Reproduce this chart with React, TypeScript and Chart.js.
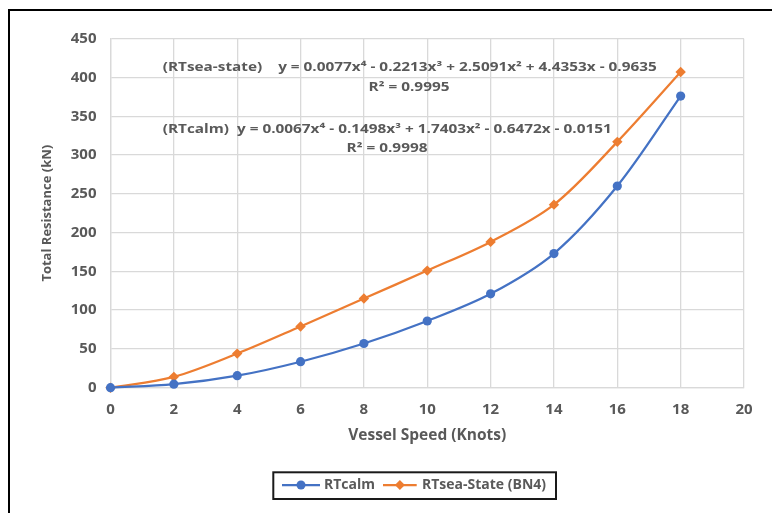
import React, { useEffect, useRef } from "react";
import { Chart, registerables } from "chart.js";

Chart.register(...registerables);

// ---------- data ----------
const speeds = [0, 2, 4, 6, 8, 10, 12, 14, 16, 18];
const rtCalm = [0, 4.5, 15.5, 33.5, 57, 86, 121, 173, 260, 376];
const rtSea = [0, 14, 44, 79, 115, 151, 188, 236, 317, 407];
const seriesLabels = ["RTcalm", "RTsea-State (BN4)"];
const seriesColors = ["#4472C4", "#ED7D31"];
const xTitle = "Vessel Speed (Knots)";
const yTitle = "Total Resistance (kN)";
const xRange = [0, 20, 2];
const yRange = [0, 450, 50];
const seaEquation = "(RTsea-state)    y = 0.0077x⁴ - 0.2213x³ + 2.5091x² + 4.4353x - 0.9635";
const seaR2 = "R² = 0.9995";
const calmEquation = "(RTcalm)  y = 0.0067x⁴ - 0.1498x³ + 1.7403x² - 0.6472x - 0.0151";
const calmR2 = "R² = 0.9998";

const FONT = "'Open Sans', 'DejaVu Sans', sans-serif";
const TEXT = "#595959";
const GRID = "#d9d9d9";

const annotationPlugin = {
  id: "trendText",
  beforeDatasetsDraw(chart: any) {
    const ctx = chart.ctx;
    const ca = chart.chartArea;
    ctx.save();
    ctx.fillStyle = TEXT;
    ctx.font = `bold 12px ${FONT}`;
    ctx.textBaseline = "middle";
    const w = ctx.measureText(calmEquation).width;
    const sx = 449 / w;
    const draw = (t: string, x: number, y: number, center: boolean) => {
      const tw = ctx.measureText(t).width * sx;
      ctx.save();
      ctx.translate(center ? x - tw / 2 : x, y);
      ctx.scale(sx, 1);
      ctx.textAlign = "left";
      ctx.fillText(t, 0, 0);
      ctx.restore();
    };
    draw(seaEquation, ca.left + 52.2, ca.top + 29.3, false);
    draw(seaR2, ca.left + 298.5, ca.top + 49.3, true);
    draw(calmEquation, ca.left + 52.2, ca.top + 91.3, false);
    draw(calmR2, ca.left + 276.5, ca.top + 110.3, true);
    ctx.restore();
  },
};

const legendPlugin = {
  id: "excelLegend",
  afterDraw(chart: any) {
    const ctx = chart.ctx;
    const ca = chart.chartArea;
    const bx = ca.left + 162.8;
    const by = ca.bottom + 84.6;
    const bw = 282.7;
    const bh = 26.7;
    const cy = by + 12.7;
    ctx.save();
    ctx.fillStyle = "#fff";
    ctx.fillRect(bx, by, bw, bh);
    ctx.beginPath();
    ctx.rect(bx, by, bw, bh);
    ctx.clip();
    const items = [
      { x0: bx + 8.7, x1: bx + 46.7, tx: bx + 50.7, style: "circle" },
      { x0: bx + 109.7, x1: bx + 143.4, tx: bx + 148.7, style: "rectRot" },
    ];
    chart.data.datasets.forEach((ds: any, i: number) => {
      const it = items[i];
      ctx.strokeStyle = ds.borderColor;
      ctx.lineWidth = 2.25;
      ctx.beginPath();
      ctx.moveTo(it.x0, cy);
      ctx.lineTo(it.x1, cy);
      ctx.stroke();
      const mx = (it.x0 + it.x1) / 2;
      ctx.fillStyle = ds.borderColor;
      ctx.beginPath();
      if (it.style === "circle") {
        ctx.arc(mx, cy, 4.5, 0, Math.PI * 2);
      } else {
        const r = 5;
        ctx.moveTo(mx, cy - r);
        ctx.lineTo(mx + r, cy);
        ctx.lineTo(mx, cy + r);
        ctx.lineTo(mx - r, cy);
        ctx.closePath();
      }
      ctx.fill();
      ctx.fillStyle = TEXT;
      ctx.font = `bold 14px ${FONT}`;
      ctx.textBaseline = "middle";
      ctx.textAlign = "left";
      ctx.fillText(ds.label, it.tx, cy);
    });
    ctx.restore();
    ctx.save();
    ctx.strokeStyle = "#1a1a1a";
    ctx.lineWidth = 2;
    ctx.strokeRect(bx, by, bw, bh);
    ctx.restore();
  },
};

export default function App() {
  const ref = useRef<HTMLCanvasElement | null>(null);

  useEffect(() => {
    if (!ref.current) return;
    const mk = (vals: number[]) => speeds.map((s, i) => ({ x: s, y: vals[i] }));
    const chart = new Chart(ref.current, {
      type: "line",
      data: {
        datasets: [
          {
            label: seriesLabels[0],
            data: mk(rtCalm),
            borderColor: seriesColors[0],
            backgroundColor: seriesColors[0],
            borderWidth: 2.25,
            pointStyle: "circle",
            pointRadius: 4.6,
            pointBorderWidth: 0,
            tension: 0.33,
            clip: false as any,
          },
          {
            label: seriesLabels[1],
            data: mk(rtSea),
            borderColor: seriesColors[1],
            backgroundColor: seriesColors[1],
            borderWidth: 2.25,
            pointStyle: "rectRot",
            pointRadius: 5.2,
            pointBorderWidth: 0,
            tension: 0.33,
            clip: false as any,
          },
        ],
      },
      options: {
        animation: false,
        responsive: false,
        maintainAspectRatio: false,
        layout: { padding: { left: 20, right: 28, top: 27.7, bottom: 68 } },
        plugins: {
          legend: { display: false },
          tooltip: { enabled: false },
        },
        scales: {
          x: {
            type: "linear",
            min: xRange[0],
            max: xRange[1],
            ticks: {
              stepSize: xRange[2],
              color: TEXT,
              font: { family: FONT, size: 15, weight: "bold" as any },
              padding: 13.3,
              maxRotation: 0,
            },
            grid: { color: GRID, lineWidth: 1.3, drawTicks: false },
            border: { color: GRID, width: 1.3 },
            title: {
              display: true,
              text: xTitle,
              color: TEXT,
              font: { family: FONT, size: 15.5, weight: "bold" as any },
              padding: { top: 0, bottom: 0 },
            },
            afterFit: (s: any) => {
              s.height = 57.3;
            },
          },
          y: {
            min: yRange[0],
            max: yRange[1],
            ticks: {
              stepSize: yRange[2],
              color: TEXT,
              font: { family: FONT, size: 15, weight: "bold" as any },
              padding: 14,
            },
            grid: { color: GRID, lineWidth: 1.3, drawTicks: false },
            border: { color: GRID, width: 1.3 },
            title: {
              display: true,
              text: yTitle,
              color: TEXT,
              font: { family: FONT, size: 13, weight: "bold" as any },
              padding: { top: 9.7, bottom: 0 },
            },
            afterFit: (s: any) => {
              s.width = 80.5;
            },
          },
        },
      },
      plugins: [annotationPlugin, legendPlugin],
    });
    return () => chart.destroy();
  }, []);

  return (
    <div
      style={{
        position: "absolute",
        left: 8,
        top: 9,
        width: 764,
        height: 504,
        borderTop: "2px solid #000",
        borderLeft: "2px solid #000",
        boxSizing: "border-box",
        background: "#fff",
        overflow: "hidden",
      }}
    >
      <canvas ref={ref} width={762} height={502} style={{ display: "block", width: 762, height: 502 }} />
    </div>
  );
}
